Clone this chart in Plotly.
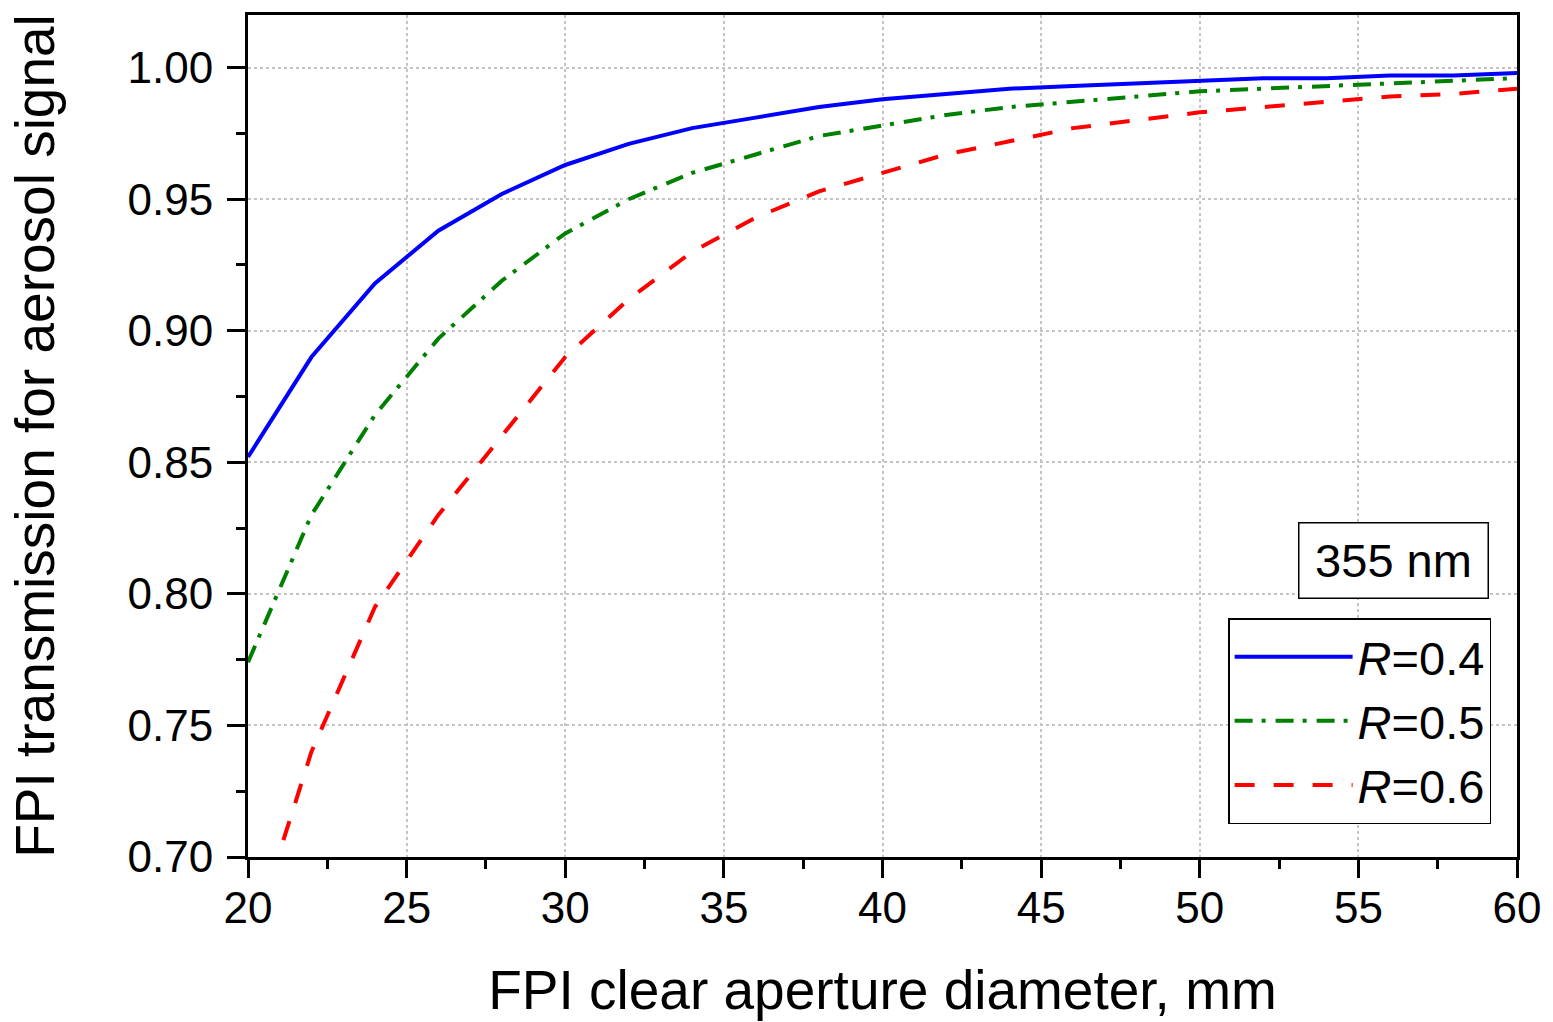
import plotly.graph_objects as go

x_vals = [20, 22, 24, 26, 28, 30, 32, 34, 36, 38, 40, 42, 44, 46, 48, 50, 52, 54, 56, 58, 60]
r04 = [0.852, 0.890, 0.918, 0.938, 0.952, 0.963, 0.971, 0.977, 0.981, 0.985, 0.988, 0.990,
       0.992, 0.993, 0.994, 0.995, 0.996, 0.996, 0.997, 0.997, 0.998]
r05 = [0.774, 0.830, 0.868, 0.897, 0.919, 0.937, 0.950, 0.960, 0.967, 0.974, 0.978, 0.982,
       0.985, 0.987, 0.989, 0.991, 0.992, 0.993, 0.994, 0.995, 0.996]
r06 = [0.664, 0.740, 0.795, 0.830, 0.860, 0.890, 0.912, 0.930, 0.943, 0.953, 0.960, 0.967,
       0.972, 0.977, 0.980, 0.983, 0.985, 0.987, 0.989, 0.990, 0.992]
series_names = ["<i>R</i>=0.4", "<i>R</i>=0.5", "<i>R</i>=0.6"]
x_ticks = [20, 25, 30, 35, 40, 45, 50, 55, 60]
y_ticks = [0.70, 0.75, 0.80, 0.85, 0.90, 0.95, 1.00]

FONT = "Liberation Sans, Arial, sans-serif"

fig = go.Figure()
fig.add_trace(go.Scatter(x=x_vals, y=r04, mode="lines", name=series_names[0],
                         line=dict(color="#0000ff", width=4, dash="solid")))
fig.add_trace(go.Scatter(x=x_vals, y=r05, mode="lines", name=series_names[1],
                         line=dict(color="#008000", width=4, dash="18px,9px,4px,10px")))
fig.add_trace(go.Scatter(x=x_vals, y=r06, mode="lines", name=series_names[2],
                         line=dict(color="#ff0000", width=4, dash="20px,19px")))

axis_common = dict(
    showline=True, linecolor="black", linewidth=3, mirror=True,
    ticks="outside", ticklen=18, tickwidth=3, tickcolor="black",
    showgrid=True, gridcolor="#c4c4c4", griddash="dot", gridwidth=1.5,
    zeroline=False,
    tickfont=dict(family=FONT, size=44, color="black"),
)

fig.update_xaxes(
    range=[20, 60], tickvals=x_ticks, ticktext=[str(v) for v in x_ticks],
    ticklabelstandoff=-8,
    minor=dict(ticks="outside", ticklen=9, tickwidth=3, tickcolor="black", dtick=2.5, tick0=20, showgrid=False),
    title=dict(text="FPI clear aperture diameter, mm", font=dict(family=FONT, size=55, color="black"), standoff=40),
    **axis_common,
)
fig.update_yaxes(
    range=[0.70, 1.02], tickvals=y_ticks, ticktext=[f"{v:.2f}" for v in y_ticks],
    ticklabelstandoff=5,
    minor=dict(ticks="outside", ticklen=9, tickwidth=3, tickcolor="black", dtick=0.025, tick0=0.70, showgrid=False),
    title=dict(text="FPI transmission for aerosol signal", font=dict(family=FONT, size=55, color="black"), standoff=56),
    **axis_common,
)

fig.update_layout(
    width=1553, height=1022,
    margin=dict(l=248, r=34, t=13, b=164),
    paper_bgcolor="white", plot_bgcolor="white",
    font=dict(family=FONT, color="black"),
    showlegend=True,
    legend=dict(
        x=0.9796, y=0.039, xanchor="right", yanchor="bottom",
        bordercolor="black", borderwidth=1.5, bgcolor="white",
        font=dict(family=FONT, size=47, color="black"),
        itemwidth=118, tracegroupgap=0,
    ),
    annotations=[dict(
        text="355 nm", x=0.9024, y=0.3527, xref="paper", yref="paper",
        xanchor="center", yanchor="middle",
        showarrow=False, font=dict(family=FONT, size=47, color="black"),
        width=176, height=62, align="center",
        bordercolor="black", borderwidth=1.5, borderpad=6, bgcolor="white",
    )],
)

fig.write_html("out.html")
